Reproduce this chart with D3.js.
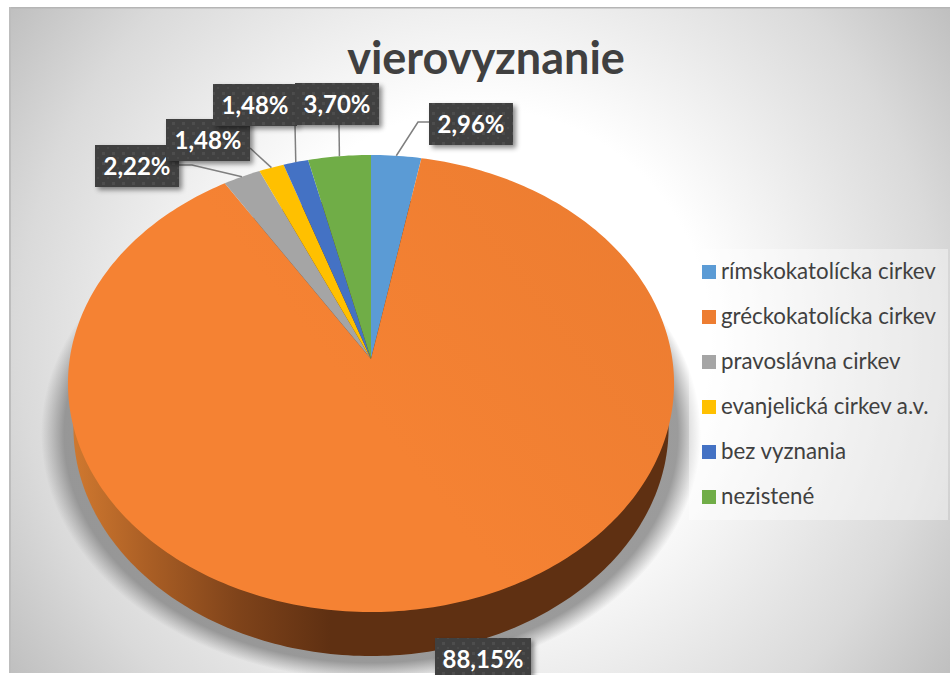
<!DOCTYPE html>
<html><head><meta charset="utf-8">
<script src="https://cdnjs.cloudflare.com/ajax/libs/d3/7.8.5/d3.min.js"></script>
<style>html,body{margin:0;padding:0;background:#fff;overflow:hidden}svg{display:block}text{font-family:Lato,"Open Sans",sans-serif}</style>
</head><body>
<script>
const title = "vierovyznanie";
const categories = ["rímskokatolícka cirkev","gréckokatolícka cirkev","pravoslávna cirkev","evanjelická cirkev a.v.","bez vyznania","nezistené"];
const values = [2.96,88.15,2.22,1.48,1.48,3.70];
const sliceColors = ["#5b9bd5","url(#orangeFace)","#a5a5a5","#ffc000","#4472c4","#70ad47"];
const legendColors = ["#5b9bd5","#ed7d31","#a5a5a5","#ffc000","#4472c4","#70ad47"];
// label box top-left corners and leader elbows (page layout, not data)
const labelBoxes = [[429,103,84,42],[435,638,96,40],[95,145,84,42],[166,119,84,42],[213,84,84,42],[295,83,84,42]];
const leaderRoutes = [[[418,122],[429,122]],[],[[192,165],[179,165]],[[250,148]],[[295,125]],[[339,125]]];

const W=950,H=675;
const svg=d3.select("body").append("svg").attr("width",W).attr("height",H);
const defs=svg.append("defs");

const bg=defs.append("radialGradient").attr("id","bg").attr("gradientUnits","userSpaceOnUse")
  .attr("cx",480).attr("cy",340).attr("r",577);
[[0,"#fff"],[0.40,"#fff"],[0.8,"#dadada"],[1,"#bfbfbf"]].forEach(s=>bg.append("stop").attr("offset",s[0]).attr("stop-color",s[1]));

const of=defs.append("linearGradient").attr("id","orangeFace").attr("gradientUnits","userSpaceOnUse")
  .attr("x1",600).attr("y1",200).attr("x2",150).attr("y2",550);
[[0,"#ed7d31"],[0.55,"#f58233"],[1,"#f58233"]].forEach(s=>of.append("stop").attr("offset",s[0]).attr("stop-color",s[1]));

const wg=defs.append("linearGradient").attr("id","wall").attr("gradientUnits","userSpaceOnUse")
  .attr("x1",68).attr("x2",330).attr("y1",0).attr("y2",0);
[[0,"#d27a30"],[0.3,"#ab5f25"],[0.65,"#7f431a"],[1,"#5f3012"]].forEach(s=>wg.append("stop").attr("offset",s[0]).attr("stop-color",s[1]));

// soft ground shadow built as a radial fade
const sg=defs.append("radialGradient").attr("id","ground");
[[0,"#8a8a8a",0.85],[0.93,"#8a8a8a",0.85],[0.965,"#8a8a8a",0.42],[1,"#8a8a8a",0]].forEach(s=>
  sg.append("stop").attr("offset",s[0]).attr("stop-color",s[1]).attr("stop-opacity",s[2]));

const ds=defs.append("filter").attr("id","boxShadow").attr("x","-20%").attr("y","-20%").attr("width","150%").attr("height","150%");
ds.append("feDropShadow").attr("dx",3).attr("dy",3).attr("stdDeviation",2.5).attr("flood-color","#000").attr("flood-opacity",0.45);

const pat=defs.append("pattern").attr("id","dots").attr("patternUnits","userSpaceOnUse").attr("width",10).attr("height",10);
pat.append("rect").attr("width",10).attr("height",10).attr("fill","#404040");
pat.append("rect").attr("x",2).attr("y",2).attr("width",3).attr("height",3).attr("fill","#4d4d4d");
pat.append("rect").attr("x",7).attr("y",7).attr("width",2).attr("height",2).attr("fill","#484848");

// chart area
svg.append("rect").attr("x",9).attr("y",7).attr("width",W-9).attr("height",666).attr("fill","url(#bg)");
svg.append("rect").attr("x",9).attr("y",7).attr("width",W-9).attr("height",1.5).attr("fill","#b5b5b5");
svg.append("rect").attr("x",9).attr("y",7).attr("width",2).attr("height",666).attr("fill","#bdbdbd");

// perspective projection of the pie disc
const cx=371, cy=359, A=301.3, B=225.9, P=0.1072, depth=44;
function project(a,s=1,dy=0){
  const u=Math.sin(a), v=Math.cos(a), d=1+P*v;
  return [cx+s*A*u/d, cy-B*v/d+dy];
}
const line=d3.line();
const pie=d3.pie().sort(null).value(d=>d)(values);
const circle=d3.range(0,2*Math.PI+0.001,Math.PI/180);

// ground shadow, clipped to the chart area by the svg bottom strip below
svg.append("ellipse").attr("cx",371).attr("cy",434).attr("rx",330).attr("ry",246).attr("fill","url(#ground)");
svg.append("rect").attr("x",0).attr("y",673).attr("width",W).attr("height",2).attr("fill","#fff");

// side wall
svg.append("path").attr("d",line(circle.map(a=>project(a,0.982,depth)))+"Z").attr("fill","url(#wall)");

// top face
svg.selectAll("path.slice").data(pie).join("path").attr("class","slice")
  .attr("fill",(d,i)=>sliceColors[i])
  .attr("d",d=>{
    const n=Math.max(2,Math.ceil((d.endAngle-d.startAngle)/(Math.PI/180)));
    const pts=d3.range(n+1).map(k=>project(d.startAngle+(d.endAngle-d.startAngle)*k/n));
    return line([[cx,cy],...pts])+"Z";
  });

// title
svg.append("text").attr("x",486).attr("y",74).attr("text-anchor","middle").attr("font-size",45).attr("font-weight",700).attr("fill","#404040").text(title);

// leaders
pie.forEach((d,i)=>{
  if(!leaderRoutes[i].length) return;
  const start=project((d.startAngle+d.endAngle)/2);
  svg.append("path").attr("d",line([start,...leaderRoutes[i]])).attr("fill","none").attr("stroke","#7f7f7f").attr("stroke-width",1.5);
});

// data labels
const fmt=v=>v.toFixed(2).replace(".",",")+"%";
const order=[0,1,2,3,4,5];
const lab=svg.selectAll("g.lab").data(order).join("g").attr("class","lab");
lab.append("rect").attr("x",i=>labelBoxes[i][0]).attr("y",i=>labelBoxes[i][1]).attr("width",i=>labelBoxes[i][2]).attr("height",i=>labelBoxes[i][3])
  .attr("fill","url(#dots)").attr("filter","url(#boxShadow)");
lab.append("text").attr("x",i=>labelBoxes[i][0]+labelBoxes[i][2]/2).attr("y",i=>labelBoxes[i][1]+30)
  .attr("text-anchor","middle").attr("font-size",24).attr("font-weight",700).attr("fill","#fff").text(i=>fmt(values[i]));

// legend
svg.append("rect").attr("x",689).attr("y",249).attr("width",259).attr("height",271).attr("fill","#fff").attr("opacity",0.4);
const ly=d3.scalePoint().domain(categories).range([272,497]);
const leg=svg.selectAll("g.leg").data(categories).join("g").attr("class","leg").attr("transform",d=>`translate(702,${ly(d)})`);
leg.append("rect").attr("y",-7).attr("width",14).attr("height",14).attr("fill",(d,i)=>legendColors[i]);
leg.append("text").attr("x",19).attr("y",7).attr("font-size",22.3).attr("fill","#404040").text(d=>d);
</script>
</body></html>
